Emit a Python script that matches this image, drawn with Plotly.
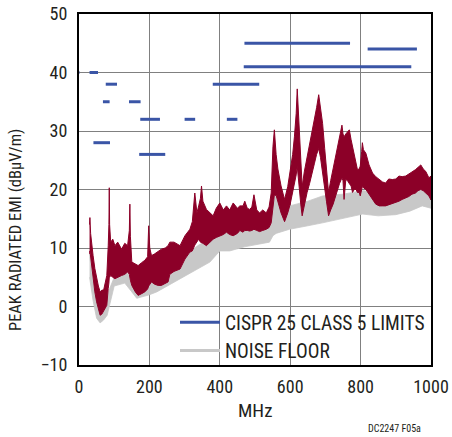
import plotly.graph_objects as go

# ---------------- data ----------------
# Peak radiated emission (red band): frequency (MHz), upper and lower envelope (dBuV/m)
emi_freq = [30, 31, 33, 36, 40, 45, 50, 55, 60, 65, 70, 75, 79, 83, 85, 86, 87, 90, 96, 102,
            110, 121, 130, 138, 143, 144.5, 146, 150, 160, 168, 178, 187, 195, 198, 201, 206,
            215, 225, 234, 245, 253, 258, 270, 287, 301, 315, 322, 329, 335, 340, 345, 348,
            352, 362, 372, 381, 390, 400, 410, 419, 428, 438, 450, 457, 466, 471, 478, 485,
            491, 497, 505, 513, 522, 532, 540, 546, 551, 555, 560, 565, 574, 584, 593, 600,
            607, 612, 617, 620, 623, 626, 630, 634, 640, 648, 655, 662, 669, 675, 681, 686,
            692, 698, 703, 709, 715, 722, 730, 735, 740, 747, 750, 753, 758, 763, 768, 773,
            777, 782, 787, 791, 796, 799, 803, 805, 808, 815, 824, 834, 843, 853, 862, 871,
            880, 890, 900, 909, 918, 928, 937, 946, 956, 963, 971, 978, 985, 994, 1000]
emi_upper = [14, 15.2, 12.5, 10.5, 8.7, 6.5, 4.8, 3.5, 2.5, 2.8, 2.8, 4, 5.3, 10.4, 14, 20.3, 14, 11, 11.5, 10.4,
             11, 9.8, 10.8, 10.4, 13, 17.5, 12, 7.6, 7.2, 7, 7.5, 7.9, 8.5, 13.8, 10, 8.7,
             9, 9.5, 9.8, 10, 10.4, 11, 11, 10.4, 12.1, 13.2, 14.5, 19.4, 16, 17.2, 18.5, 20.6,
             18, 16.6, 16, 15.5, 16.8, 17.7, 16.5, 17.2, 16.5, 17.7, 16.8, 17.2, 17.2, 18, 16.8, 16.6,
             17, 19.1, 16.5, 16, 16.5, 16, 17, 19.4, 27.3, 30.2, 26, 23.5, 20.6, 18.3, 20.5, 23,
             26, 29, 33, 37.2, 33, 30, 25, 20.5, 23, 25.5, 27.5, 29.5, 32, 34, 36.2, 34,
             31.3, 27, 23.5, 19.5, 21.5, 23.5, 26.2, 27.3, 29, 31, 29.5, 29, 29.5, 29.8, 30.2, 28.5,
             27.3, 26, 24.5, 23.4, 23.5, 24, 26.5, 28, 26.8, 26.2, 24.2, 22.8, 22.2, 21.7, 21.3, 21.1,
             21.8, 21.7, 21.8, 22.3, 22.2, 22.3, 22.6, 23, 23.4, 23.8, 24.2, 23.5, 23.1, 22, 22.3]
emi_lower = [9, 9.5, 8, 6.5, 4.8, 2.5, 0.8, -0.5, -1.5, -1.3, -0.9, -0.2, 0.2, 3.1, 4, 5, 5, 5.3, 5, 4.75,
             5, 5.3, 5.5, 5.9, 5.5, 5, 4.5, 3.6, 2.5, 1.9, 2.2, 2.5, 3, 3.5, 3.8, 4.2,
             3.8, 3.6, 3.6, 4, 4.2, 5.5, 6, 6.4, 8.1, 9.3, 9.5, 10.5, 11, 11.5, 11, 11,
             10.8, 10.4, 11, 11.5, 11.8, 12.1, 12.3, 12.7, 12.3, 12.1, 12.5, 13, 12.7, 13, 13, 12.9,
             13, 13.2, 13, 12.8, 13, 13.2, 13.5, 14.3, 17, 19, 19, 18, 16, 14.5, 16, 17.5,
             19.5, 21, 22.5, 24, 23, 20.5, 17.5, 15.5, 17.5, 19.5, 21, 22.5, 24.5, 26, 27, 25.5,
             23.5, 20.5, 18, 15.5, 16.5, 17.5, 18.9, 20, 21, 22, 21.5, 18.3, 21.7, 21.5, 21, 20.6,
             19.5, 20, 20, 19.5, 19.5, 18.9, 20, 20.5, 20.3, 20, 19, 18.3, 17.5, 17.2, 17.2, 17.2,
             17.4, 17.6, 17.8, 18, 18.3, 18.6, 18.8, 19.2, 19.4, 19.8, 20, 19.8, 19.4, 18.9, 18.2]

# Noise floor (gray band)
noise_freq = [30, 40, 50, 60, 70, 80, 100, 130, 150, 164, 200, 221, 260, 306, 340, 372, 400, 428, 470,
              500, 541, 551, 560, 598, 650, 692, 750, 806, 850, 900, 940, 975, 1000]
noise_upper = [9, 4, 1, 0.5, 1, 2, 5, 6, 5, 4.5, 5.5, 6, 7.5, 9, 10.5, 11.5, 13, 13.5, 14.5,
               15, 15.5, 17.7, 19, 17.2, 18, 18.9, 19.2, 19.8, 19.5, 19.8, 20.3, 21, 20]
noise_lower = [5, 1, -2, -2.8, -2.3, -1.5, 3.5, 4, 2.5, 1.4, 2, 2.5, 3.8, 5.3, 6.5, 7.6, 9.5, 9.5, 10.2,
               10.5, 11, 12.1, 12.5, 13.2, 13.8, 14.3, 15, 15.8, 15.5, 15.7, 16.3, 17.2, 16.8]

# CISPR 25 class 5 peak limits
lim_start = [0.15, 0.53, 5.9, 30, 41, 68, 76, 142, 171, 174, 300, 380, 420, 468, 470, 820]
lim_stop = [0.30, 1.8, 6.2, 54, 88, 87, 108, 175, 245, 230, 330, 512, 450, 944, 770, 960]
lim_level = [46, 40, 40, 40, 28, 35, 38, 35, 26, 32, 32, 38, 32, 41, 45, 44]

x_ticks = [0, 200, 400, 600, 800, 1000]
y_ticks = [-10, 0, 10, 20, 30, 40, 50]

# ---------------- styling ----------------
FONT = "Liberation Sans Narrow, Arial Narrow, Roboto Condensed, sans-serif"
TXT = "#231f20"
RED = "#8c0028"
GRAY = "#c8c8c8"
BLUE = "#3a55a6"

fig = go.Figure()

fig.add_trace(go.Scatter(
    x=noise_freq + noise_freq[::-1], y=noise_upper + noise_lower[::-1],
    fill="toself", fillcolor=GRAY, mode="lines", line=dict(color=GRAY, width=0.8),
    showlegend=False, hoverinfo="skip"))

fig.add_trace(go.Scatter(
    x=emi_freq + emi_freq[::-1], y=emi_upper + emi_lower[::-1],
    fill="toself", fillcolor=RED, mode="lines", line=dict(color=RED, width=1),
    showlegend=False, hoverinfo="skip"))

lx, ly = [], []
for a, b, v in zip(lim_start, lim_stop, lim_level):
    lx += [a, b, None]
    ly += [v, v, None]
fig.add_trace(go.Scatter(x=lx, y=ly, mode="lines", line=dict(color=BLUE, width=3),
                         name="CISPR 25 CLASS 5 LIMITS"))
fig.add_trace(go.Scatter(x=[None], y=[None], mode="lines", line=dict(color=GRAY, width=3),
                         name="NOISE FLOOR"))

L, R, T, B = 79, 21, 14, 72
W, H = 452, 437
pw, ph = W - L - R, H - T - B

def px(xp):
    return (xp - L) / pw

def py(yp):
    return (H - B - yp) / ph

fig.update_layout(
    width=W, height=H, margin=dict(l=L, r=R, t=T, b=B, autoexpand=False),
    paper_bgcolor="white", plot_bgcolor="white",
    font=dict(family=FONT, size=18, color=TXT),
    showlegend=True,
    legend=dict(x=px(175), y=py(303), xanchor="left", yanchor="top",
                bgcolor="rgba(0,0,0,0)", font=dict(size=19.5, color=TXT),
                itemwidth=40, tracegroupgap=0),
    xaxis=dict(range=[0, 1000], tickvals=x_ticks, showgrid=True, gridcolor="#808080",
               gridwidth=1.2, showline=True, linecolor="black", linewidth=2, mirror=True,
               ticks="", zeroline=False, ticklabelstandoff=4, automargin=False),
    yaxis=dict(range=[-10, 50], tickvals=y_ticks,
               ticktext=[("\u221210" if v < 0 else str(v)) for v in y_ticks],
               showgrid=True, gridcolor="#808080", gridwidth=1.2, showline=True,
               linecolor="black", linewidth=2, mirror=True, ticks="", zeroline=False,
               ticklabelstandoff=6, automargin=False),
    annotations=[
        dict(text="PEAK RADIATED EMI (dBμV/m)", textangle=-90, xref="paper", yref="paper",
             x=px(15), y=py(230), xanchor="center", yanchor="middle", showarrow=False,
             font=dict(size=16.5, color=TXT)),
        dict(text="MHz", xref="paper", yref="paper", x=px(255), y=py(410),
             xanchor="center", yanchor="middle", showarrow=False, font=dict(size=19, color=TXT)),
        dict(text="DC2247 F05a", xref="paper", yref="paper", x=px(423), y=py(428),
             xanchor="right", yanchor="middle", showarrow=False, font=dict(size=10, color=TXT)),
    ],
)

fig.write_html("out.html", config={"displayModeBar": False},
               post_script="document.body.style.margin='0';document.body.style.padding='0';")
